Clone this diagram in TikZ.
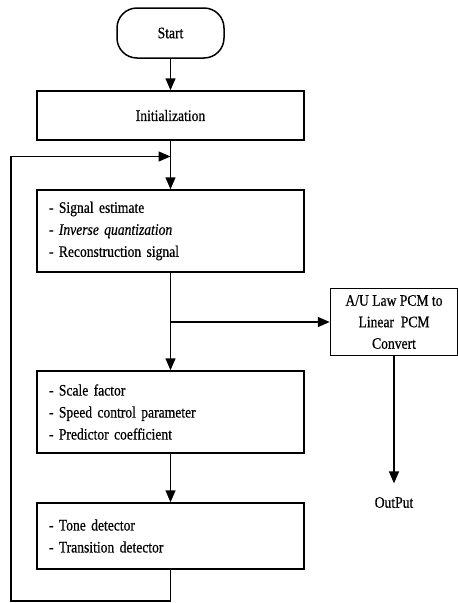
\documentclass[tikz,border=0pt]{standalone}
\usepackage{fontspec}
\setmainfont{Liberation Serif}[FakeStretch=0.85, FakeBold=0.5]
\usetikzlibrary{arrows.meta}

\begin{document}
\begin{tikzpicture}[x=1pt, y=1pt, node distance=2cm, auto, line width=1.5pt,
		>={Triangle[length=12pt,width=10pt]},
		startbox/.style={draw, rectangle, rounded corners=20pt, minimum width=107pt, minimum height=50pt, font=\fontsize{16}{22}\selectfont},
		box/.style={draw, rectangle, minimum width=267pt, text width=243pt, inner xsep=12pt, align=left, font=\fontsize{16}{22}\selectfont},
		convbox/.style={draw, rectangle, minimum width=127pt, minimum height=67pt, align=center, font=\fontsize{16}{21.5}\selectfont},
		point/.style={coordinate}]
		\useasboundingbox (0,0) rectangle (458,-603);
		
		\node (start) [startbox] at (170.5,-33) {Start};
		\node (init) [below of=start, box, align=center, minimum height=49pt, node distance=82.5pt] {Initialization};
		\node (signal) [below of=init, box, minimum height=82pt, node distance=115.5pt] {- Signal estimate\\- \textit{Inverse quantization}\\- Reconstruction signal};
		\node (branch) [below of=signal, point, node distance=91pt] {};
		\node (scale) [below of=signal, box, minimum height=82pt, node distance=181pt] {- Scale factor\\- Speed control parameter\\- Predictor coefficient};
		\node (tone) [below of=scale, box, minimum height=66pt, node distance=124pt] {- Tone detector\\- Transition detector};
		\node (conv) [right of=branch, convbox, node distance=223.5pt] {A/U Law PCM to\\Linear \ PCM\\Convert};
		\node (out) [below of=conv, inner ysep=13pt, font=\fontsize{16}{22}\selectfont, node distance=180.5pt] {OutPut};
		
		% feedback loop
		\node (join) [below of=init, point, node distance=41pt] {};
		\node (low) [below of=tone, point, node distance=65pt] {};
		\node (back) [left of=low, point, node distance=159.5pt] {};
		
		\draw[->] (start) -- (init);
		\draw[->] (init) -- (signal);
		\draw[->] (signal) -- (scale);
		\draw[->] (branch) -- (conv);
		\draw[->] (conv) -- (out);
		\draw[->] (scale) -- (tone);
		\draw[->] (tone) -- (low) -- (back) |- (join);
	\end{tikzpicture}
\end{document}
